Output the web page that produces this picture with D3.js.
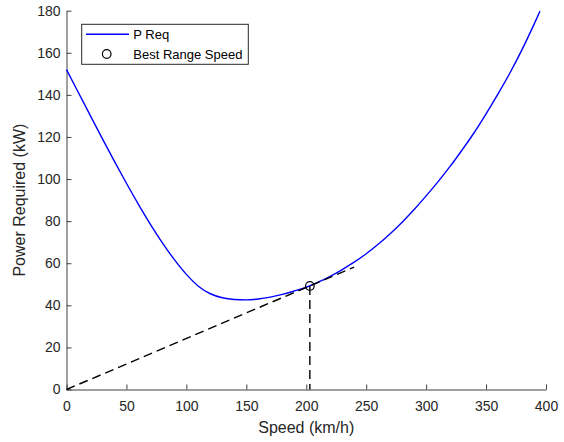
<!DOCTYPE html>
<html>
<head>
<meta charset="utf-8">
<script src="https://cdn.jsdelivr.net/npm/d3@7"></script>
<style>
	body { margin: 0; background: #fff; }
	svg { display: block; font-family: "Liberation Sans", Arial, sans-serif; }
	.axis path, .axis line { stroke: #404040; }
	.axis text { fill: #262626; font-size: 14px; }
</style>
</head>
<body>
<div id="chart"></div>
<script>
// speed (km/h) and power required (kW)
var speed = [0, 10, 20, 30, 40, 50, 60, 70, 80, 90, 100, 110, 120, 130, 140, 150, 160, 170, 180, 190,
	200, 210, 220, 230, 240, 250, 260, 270, 280, 290, 300, 310, 320, 330, 340, 350, 360, 370, 380, 390, 395];
var power = [152, 141, 130, 119.1, 108.4, 98, 88, 78.5, 69.7, 61.7, 54.7, 49.1, 45.5, 43.6, 42.8, 42.6, 43, 43.9, 45.2, 46.8,
	48.6, 51, 53.8, 57, 60.5, 64.5, 69, 74, 79.5, 85.5, 92, 98.8, 106, 113.8, 122, 131, 140.5, 150.5, 161.5, 173.5, 179.8];

// best range speed point and the tangent through the origin
var bestSpeed = [203];
var bestPower = [49.2];
var tangentSpeed = [0, 240];
var tangentPower = [0, 58.2];
var dropSpeed = [203, 203];
var dropPower = [49.2, 0];

var xTicks = [0, 50, 100, 150, 200, 250, 300, 350, 400];
var yTicks = [0, 20, 40, 60, 80, 100, 120, 140, 160, 180];

var W = 564, H = 442;
var svg = d3.select("#chart").append("svg")
	.attr("width", W)
	.attr("height", H);

var x = d3.scaleLinear().domain([0, 400]).range([66.5, 546]),
y = d3.scaleLinear().domain([0, 180]).range([389.5, 10.7]);

var xAxis = d3.axisBottom(x).tickValues(xTicks).tickSizeInner(-5).tickSizeOuter(0).tickPadding(12),
yAxis = d3.axisLeft(y).tickValues(yTicks).tickSizeInner(-5).tickSizeOuter(0).tickPadding(6);

var gx = svg.append("g")
	.attr("class", "axis")
	.attr("transform", "translate(0," + y(0) + ")")
	.call(xAxis);
gx.selectAll("text").attr("dy", "0.71em");

svg.append("g")
	.attr("class", "axis")
	.attr("transform", "translate(" + x(0) + ",0)")
	.call(yAxis);

var pts = speed.map(function (v, i) { return [v, power[i]]; });

var line = d3.line()
	.curve(d3.curveMonotoneX)
	.x(function (d) { return x(d[0]); })
	.y(function (d) { return y(d[1]); });

svg.append("path")
	.datum(pts)
	.attr("fill", "none")
	.attr("stroke", "#0000ff")
	.attr("stroke-width", 1.4)
	.attr("d", line);

svg.append("circle")
	.attr("cx", x(bestSpeed[0]))
	.attr("cy", y(bestPower[0]))
	.attr("r", 4.3)
	.attr("fill", "none")
	.attr("stroke", "#000")
	.attr("stroke-width", 1.2);

var straight = d3.line()
	.x(function (d) { return x(d[0]); })
	.y(function (d) { return y(d[1]); });

[[tangentSpeed, tangentPower], [dropSpeed, dropPower]].forEach(function (s) {
	svg.append("path")
		.datum(s[0].map(function (v, i) { return [v, s[1][i]]; }))
		.attr("fill", "none")
		.attr("stroke", "#000")
		.attr("stroke-width", 1.4)
		.attr("stroke-dasharray", "9,5")
		.attr("d", straight);
});

// axis labels
svg.append("text")
	.attr("x", (x(0) + x(400)) / 2)
	.attr("y", 433)
	.attr("text-anchor", "middle")
	.style("font-size", "16px")
	.style("fill", "#262626")
	.text("Speed (km/h)");

svg.append("text")
	.attr("transform", "translate(25," + (y(0) + y(180)) / 2 + ") rotate(-90)")
	.attr("text-anchor", "middle")
	.style("font-size", "16px")
	.style("fill", "#262626")
	.text("Power Required (kW)");

// legend
var lg = svg.append("g");
lg.append("rect")
	.attr("x", 81.7).attr("y", 24.3)
	.attr("width", 166.6).attr("height", 40)
	.attr("fill", "#fff")
	.attr("stroke", "#262626")
	.attr("stroke-width", 1);
lg.append("line")
	.attr("x1", 86).attr("x2", 129)
	.attr("y1", 34.3).attr("y2", 34.3)
	.attr("stroke", "#0000ff")
	.attr("stroke-width", 1.4);
lg.append("circle")
	.attr("cx", 106.7).attr("cy", 54)
	.attr("r", 4.3)
	.attr("fill", "none")
	.attr("stroke", "#000")
	.attr("stroke-width", 1.2);
lg.selectAll("text.lbl")
	.data(["P Req", "Best Range Speed"])
	.enter().append("text")
	.attr("x", 133.3)
	.attr("y", function (d, i) { return i ? 54 : 34.3; })
	.attr("dy", "0.35em")
	.style("font-size", "13px")
	.style("fill", "#000")
	.text(function (d) { return d; });
</script>
</body>
</html>
